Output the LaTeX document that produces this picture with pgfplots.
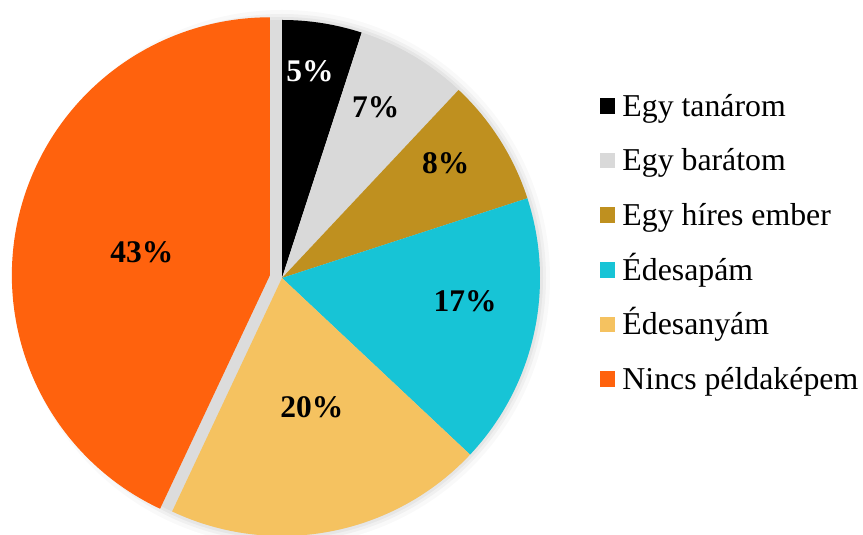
\documentclass[border=0pt]{standalone}
\usepackage{fontspec}
\setmainfont{Liberation Serif}
\usepackage{pgfplots}
\usepackage{pgfplotstable}
\pgfplotsset{compat=1.18}

\definecolor{cTanar}{HTML}{000000}
\definecolor{cBarat}{HTML}{D9D9D9}
\definecolor{cHires}{HTML}{BF901F}
\definecolor{cApa}{HTML}{17C4D6}
\definecolor{cAnya}{HTML}{F5C260}
\definecolor{cNincs}{HTML}{FF620D}
\definecolor{shadow}{HTML}{DCDCDC}

% value in %, slice colour, label colour, label angle, label radius (share of R), explode (share of R)
\pgfplotstableread[col sep=comma]{
label,value,color,tcolor,la,lr,ex
Egy tanárom,5,cTanar,white,82.3,0.81,0
Egy barátom,7,cBarat,black,61.2,0.755,0
Egy híres ember,8,cHires,black,35,0.775,0
Édesapám,17,cApa,black,-7.2,0.715,0
Édesanyám,20,cAnya,black,-76.9,0.513,0
Nincs példaképem,43,cNincs,black,169.7,0.504,0.048
}\piedata

\def\R{258}
\def\cx{282}
\def\cy{257}
\newcommand\bigfont{\fontsize{31.5}{37}\selectfont}
\newcommand\legfont{\fontsize{31.8}{37}\selectfont}

\begin{document}
\begin{tikzpicture}[font=\bigfont]
\begin{axis}[
  at={(0,0)}, anchor=south west,
  scale only axis, width=863pt, height=535pt,
  xmin=0, xmax=863, ymin=0, ymax=535,
  hide axis,
  legend cell align=left,
  legend style={at={(axis description cs:0.6952,0.8273)}, anchor=north west,
    draw=none, fill=none, inner sep=0pt, outer sep=0pt, row sep=27.4pt, column sep=7pt,
    font=\legfont,
    nodes={inner sep=0pt, text height=24pt, text depth=3.2pt}},
  legend image code/.code={\fill[#1] (0pt,-7.75pt) rectangle (15.5pt,7.75pt);},
]
% soft shadow behind the pie
\fill[black, opacity=0.025] (axis cs:\cx,\cy) circle[radius=268pt];
\fill[black, opacity=0.035] (axis cs:\cx,\cy) circle[radius=264pt];
\fill[black, opacity=0.045] (axis cs:\cx,\cy) circle[radius=261pt];
\fill[shadow] (axis cs:\cx,\cy) circle[radius=\R pt];

\pgfplotstablegetrowsof{\piedata}
\pgfmathtruncatemacro\nrows{\pgfplotsretval-1}
\def\astart{90}
\pgfplotsforeachungrouped \i in {0,...,\nrows}{
  \pgfplotstablegetelem{\i}{label}\of\piedata \let\lab\pgfplotsretval
  \pgfplotstablegetelem{\i}{value}\of\piedata \let\v\pgfplotsretval
  \pgfplotstablegetelem{\i}{color}\of\piedata \let\col\pgfplotsretval
  \pgfplotstablegetelem{\i}{tcolor}\of\piedata \let\tc\pgfplotsretval
  \pgfplotstablegetelem{\i}{la}\of\piedata \let\la\pgfplotsretval
  \pgfplotstablegetelem{\i}{lr}\of\piedata \let\lr\pgfplotsretval
  \pgfplotstablegetelem{\i}{ex}\of\piedata \let\ex\pgfplotsretval
  \pgfmathsetmacro\aend{\astart-3.6*\v}
  \pgfmathsetmacro\amid{(\astart+\aend)/2}
  \pgfmathsetmacro\ox{\cx+\ex*\R*cos(\amid)}
  \pgfmathsetmacro\oy{\cy+\ex*\R*sin(\amid)}
  \pgfmathsetmacro\lx{\ox+\lr*\R*cos(\la)}
  \pgfmathsetmacro\ly{\oy+\lr*\R*sin(\la)}
  \edef\temp{%
    \noexpand\fill[\col] (axis cs:\ox,\oy) -- ++(\astart:\R pt)
      arc[start angle=\astart, end angle=\aend, radius=\R pt] -- cycle;
    \noexpand\node[text=\tc, inner sep=0pt, font=\noexpand\bigfont\noexpand\bfseries]
      at (axis cs:\lx,\ly) {\v\noexpand\%};
    \noexpand\addlegendimage{fill=\col, draw=none}
    \noexpand\addlegendentry{\lab}
  }\temp
  \let\astart\aend
}
\end{axis}
\pgfresetboundingbox
\path[use as bounding box] (0,0) rectangle (863pt,535pt);
\end{tikzpicture}
\end{document}
